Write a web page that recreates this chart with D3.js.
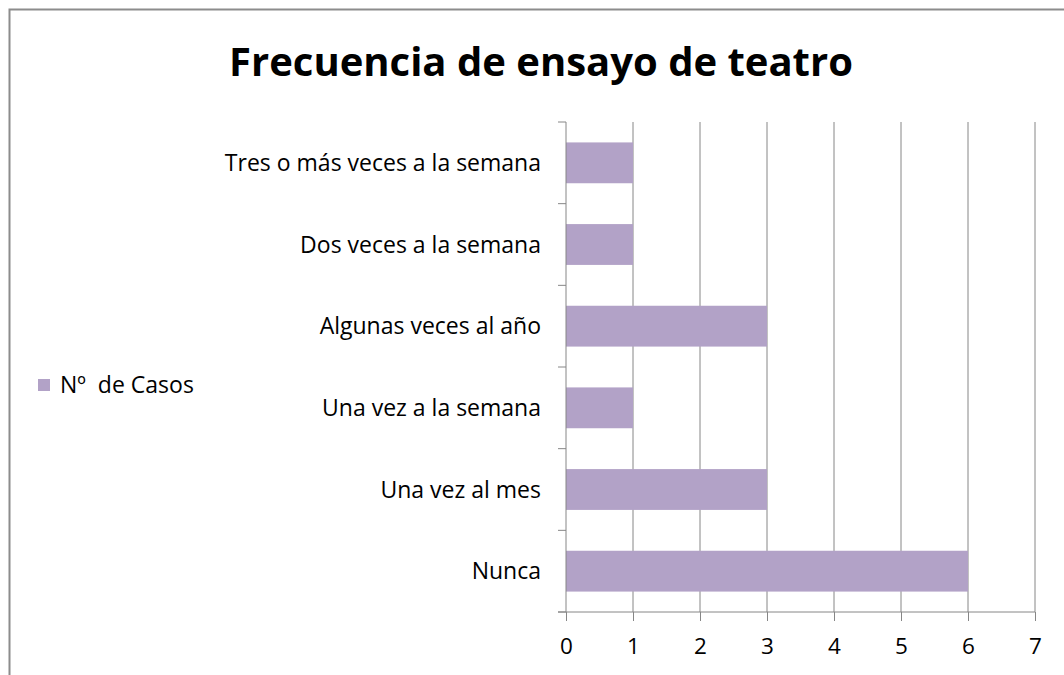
<!DOCTYPE html>
<html><head><meta charset="utf-8">
<script src="https://cdn.jsdelivr.net/npm/d3@7"></script>
<style>body{margin:0;background:#fff}svg{display:block}</style>
</head><body>
<svg id="c" width="1064" height="675"></svg>
<script>
const categories = ["Nunca","Una vez al mes","Una vez a la semana","Algunas veces al año","Dos veces a la semana","Tres o más veces a la semana"];
const values = [6,3,1,3,1,1];
const xTicks = [0,1,2,3,4,5,6,7];
const seriesName = "Nº  de Casos";
const title = "Frecuencia de ensayo de teatro";

const svg = d3.select("#c");
const font = "'Open Sans', sans-serif";
const grey = "#868686";
const barColor = "#b2a2c7";

svg.append("rect").attr("x",9.5).attr("y",9.5).attr("width",1070).attr("height",680)
  .attr("fill","#fff").attr("stroke","#8c8c8c").attr("stroke-width",2);

const x = d3.scaleLinear().domain([0,7]).range([566,1035]);
const y = d3.scaleBand().domain(categories.slice().reverse()).range([122,612]).paddingInner(0.5).paddingOuter(0.25);

svg.append("g").selectAll("line").data(xTicks.slice(1)).join("line")
  .attr("x1",d=>x(d)).attr("x2",d=>x(d)).attr("y1",122).attr("y2",612)
  .attr("stroke",grey).attr("stroke-width",1);

svg.append("g").selectAll("rect").data(categories).join("rect")
  .attr("x",x(0)).attr("y",d=>y(d)).attr("height",y.bandwidth())
  .attr("width",(d,i)=>x(values[i])-x(0)).attr("fill",barColor);

const yb = d3.scaleBand().domain(categories.slice().reverse()).range([122,612]);
const ya = svg.append("g").attr("transform",`translate(${x(0)},0)`);
ya.append("line").attr("x1",0).attr("x2",0).attr("y1",122).attr("y2",612).attr("stroke",grey);
const yEdges = d3.range(categories.length+1).map(i=>122+i*yb.step());
ya.selectAll("line.t").data(yEdges).join("line").attr("class","t")
  .attr("x1",-8).attr("x2",0).attr("y1",d=>d).attr("y2",d=>d).attr("stroke",grey);
ya.selectAll("text").data(categories).join("text")
  .attr("x",-25).attr("y",d=>yb(d)+yb.bandwidth()/2).attr("dy","0.35em")
  .attr("text-anchor","end").attr("font-family",font).attr("font-size",23).attr("fill","#000")
  .text(d=>d);

const xa = svg.append("g").attr("transform","translate(0,612)")
  .call(d3.axisBottom(x).tickValues(xTicks).tickSize(9).tickPadding(17).tickFormat(d3.format("d")));
xa.select(".domain").remove();
xa.append("line").attr("x1",558).attr("x2",x(7)).attr("y1",0).attr("y2",0).attr("stroke",grey);
xa.selectAll(".tick line").attr("stroke",grey);
xa.selectAll(".tick text").attr("font-family",font).attr("font-size",22.5).attr("fill","#000");

svg.append("text").attr("x",541).attr("y",76).attr("text-anchor","middle")
  .attr("font-family",font).attr("font-weight","bold").attr("font-size",40).attr("fill","#000").text(title);

svg.append("rect").attr("x",38).attr("y",379).attr("width",12).attr("height",12).attr("fill",barColor);
svg.append("text").attr("x",60).attr("y",385).attr("dy","0.35em").attr("font-family",font)
  .attr("font-size",23).attr("fill","#000").style("white-space","pre").text(seriesName);
</script>
</body></html>
